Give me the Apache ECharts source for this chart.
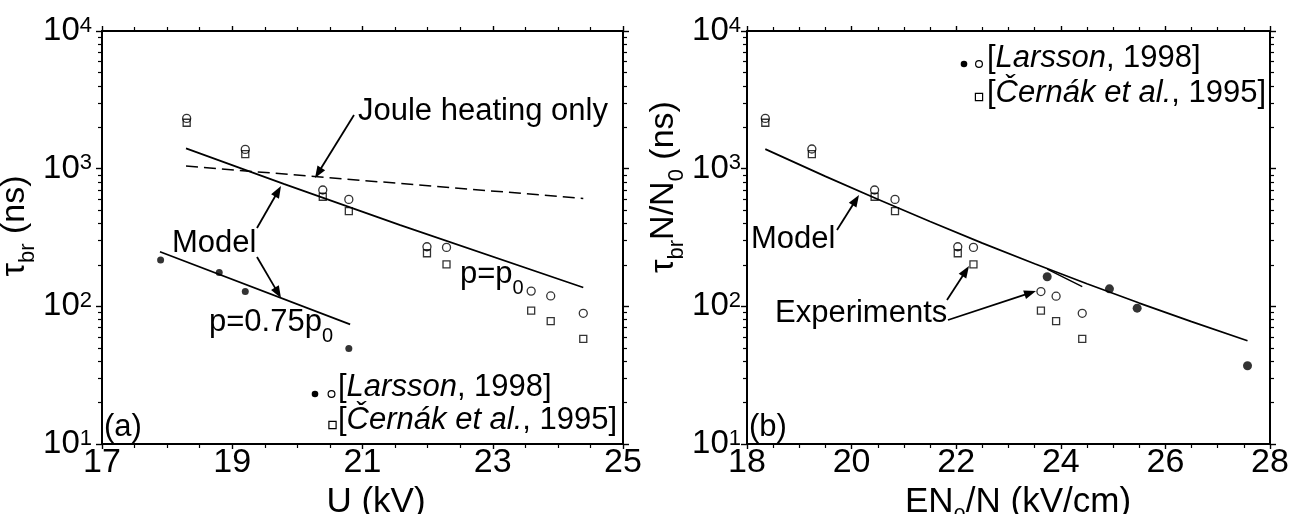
<!DOCTYPE html>
<html>
<head>
<meta charset="utf-8">
<script src="https://cdn.jsdelivr.net/npm/echarts@6/dist/echarts.min.js"></script>
<style>
  html, body { margin: 0; padding: 0; background: #fff; }
  #chart { width: 1301px; height: 514px; }
</style>
</head>
<body>
<div id="chart"></div>
<script>
// ---------- Panel (a): breakdown delay versus applied voltage U ----------
const xTicksA = [17, 19, 21, 23, 25];
const uOpen = [18.30, 19.20, 20.39, 20.79, 21.99, 22.29, 23.59, 23.89, 24.39];
const tauLarssonOpen = [2318, 1380, 700, 598, 271, 268, 129, 119, 89];
const tauCernak = [2155, 1276, 625, 492, 243, 202, 93, 78, 58];
const uSolid = [17.90, 18.80, 19.20, 20.79];
const tauLarssonSolid = [217, 176, 128, 49.5];
const uModelP0 = [18.29, 19.79, 21.58, 24.39];
const tauModelP0 = [1403, 775, 389, 137];
const uModel075 = [17.89, 20.81];
const tauModel075 = [249, 74];
const uJoule = [18.29, 24.39];
const tauJoule = [1045, 608];

// ---------- Panel (b): scaled delay versus reduced field ----------
const xTicksB = [18, 20, 22, 24, 26, 28];
const eOpen = [18.35, 19.24, 20.44, 20.83, 22.03, 22.33, 23.62, 23.91, 24.41];
const scaledLarssonOpen = [2318, 1390, 700, 598, 271, 268, 128, 118.5, 89];
const scaledCernak = [2155, 1276, 625, 492, 243, 202, 93, 78, 58];
const eSolid = [23.74, 24.93, 25.46, 27.57];
const scaledLarssonSolid = [164, 134, 97, 37];
const eModel = [18.35, 19.5, 20.5, 21.5, 22.5, 23.5, 24.5, 25.5, 26.5, 27.57];
const scaledModel = [1387, 879, 599, 413, 288, 204, 146, 105.6, 77.4, 56.2];
const eModelShort = [23.74, 24.41];
const scaledModelShort = [186.6, 138.8];

// shared log axis: decades 10^1 .. 10^4
const yDecadeExponents = [1, 2, 3, 4];

const FONT = 'Liberation Sans';
const zip = (xs, ys) => xs.map((x, i) => [x, ys[i]]);

// minor log ticks (2..9 within each decade), expressed in exponent space
const minorLogTicks = [];
for (let d = yDecadeExponents[0]; d < yDecadeExponents[yDecadeExponents.length - 1]; d++) {
  for (let k = 2; k <= 9; k++) minorLogTicks.push(d + Math.log10(k));
}

const subRich = (size, subSize, drop) => ({
  t: { fontSize: size, lineHeight: size, verticalAlign: 'top', fontFamily: FONT, color: '#000' },
  s: { fontSize: subSize, lineHeight: subSize, verticalAlign: 'top', padding: [drop, 0, 0, 0], fontFamily: FONT, color: '#000' }
});

function xAxes(grid, ticks, name, padLeft) {
  const base = {
    type: 'value', gridIndex: grid,
    min: ticks[0], max: ticks[ticks.length - 1], interval: ticks[1] - ticks[0],
    axisLine: { onZero: false, lineStyle: { color: '#000', width: 2 } },
    axisTick: { show: true, inside: false, length: 5, lineStyle: { color: '#000', width: 1.4 } },
    minorTick: { show: true, splitNumber: 4, length: 4, lineStyle: { color: '#000', width: 1.2 } },
    splitLine: { show: false }, minorSplitLine: { show: false }
  };
  return [
    Object.assign({}, base, {
      position: 'bottom',
      axisLabel: { fontSize: 34, fontFamily: FONT, color: '#000', margin: 2 },
      name: name, nameLocation: 'middle', nameGap: 34,
      nameTextStyle: { rich: subRich(35, 22, 21), padding: [0, 0, 0, padLeft] }
    }),
    Object.assign({}, base, { position: 'top', axisLabel: { show: false } })
  ];
}

function yAxes(grid, name, gap, padLeft, labelMargin) {
  const lo = Math.pow(10, yDecadeExponents[0]);
  const hi = Math.pow(10, yDecadeExponents[yDecadeExponents.length - 1]);
  const major = {
    type: 'log', logBase: 10, gridIndex: grid, min: lo, max: hi,
    axisLine: { onZero: false, lineStyle: { color: '#000', width: 2 } },
    axisTick: { show: true, inside: false, length: 6, lineStyle: { color: '#000', width: 1.4 } },
    splitLine: { show: false }, minorTick: { show: false }
  };
  const minor = {
    type: 'value', gridIndex: grid,
    min: yDecadeExponents[0], max: yDecadeExponents[yDecadeExponents.length - 1],
    axisLine: { show: false },
    axisTick: { show: true, inside: false, length: 4, customValues: minorLogTicks, lineStyle: { color: '#000', width: 1.2 } },
    axisLabel: { show: false }, splitLine: { show: false }
  };
  return [
    Object.assign({}, major, {
      position: 'left',
      axisLabel: {
        margin: labelMargin,
        formatter: v => '{b|10}{s|' + Math.round(Math.log10(v)) + '}',
        rich: {
          b: { fontSize: 33, lineHeight: 33, verticalAlign: 'top', fontFamily: FONT, color: '#000' },
          s: { fontSize: 22, lineHeight: 22, verticalAlign: 'top', fontFamily: FONT, color: '#000' }
        }
      },
      name: name, nameLocation: 'middle', nameRotate: 90, nameGap: gap,
      nameTextStyle: { rich: subRich(34, 22, 20), padding: [0, 0, 0, padLeft] }
    }),
    Object.assign({}, major, { position: 'right', axisLabel: { show: false } }),
    Object.assign({}, minor, { position: 'left' }),
    Object.assign({}, minor, { position: 'right' })
  ];
}

const solidLine = (name, xi, yi, data, extra) => Object.assign({
  name: name, type: 'line', xAxisIndex: xi, yAxisIndex: yi, data: data,
  symbol: 'none', silent: true,
  lineStyle: { color: '#000', width: 1.7 }
}, extra || {});

const marks = (name, xi, yi, data, symbol, size, filled) => ({
  name: name, type: 'scatter', xAxisIndex: xi, yAxisIndex: yi, data: data,
  symbol: symbol, symbolSize: size, silent: true,
  itemStyle: filled
    ? { color: '#000' }
    : { color: 'transparent', borderColor: '#000', borderWidth: 1.3 }
});

// ---------- annotation helpers ----------
function arrow(x1, y1, x2, y2) {
  const dx = x2 - x1, dy = y2 - y1, L = Math.hypot(dx, dy);
  const ux = dx / L, uy = dy / L, hl = 12, hw = 4.5;
  const bx = x2 - ux * hl, by = y2 - uy * hl;
  return [
    { type: 'line', shape: { x1: x1, y1: y1, x2: bx + ux * 2, y2: by + uy * 2 }, style: { stroke: '#000', lineWidth: 1.8 } },
    { type: 'polygon', shape: { points: [[x2, y2], [bx - uy * hw, by + ux * hw], [bx + uy * hw, by - ux * hw]] }, style: { fill: '#000' } }
  ];
}
function label(x, yMid, text) {
  return { type: 'text', x: x, y: yMid, style: { text: text, fontSize: 31, fontFamily: FONT, fill: '#000', align: 'left', verticalAlign: 'middle' } };
}
const annRich = {
  t: { fontSize: 31, lineHeight: 31, verticalAlign: 'top', fontFamily: FONT, fill: '#000' },
  s: { fontSize: 20, lineHeight: 20, verticalAlign: 'top', padding: [19, 0, 0, 0], fontFamily: FONT, fill: '#000' },
  i: { fontSize: 31, lineHeight: 31, verticalAlign: 'top', fontStyle: 'italic', fontFamily: FONT, fill: '#000' }
};
function richLabel(x, yTop, text) {
  return { type: 'text', x: x, y: yTop, style: { text: text, rich: annRich, fontSize: 31, fontFamily: FONT, fill: '#000', align: 'left', verticalAlign: 'top' } };
}
function legendBlock(x, yTop1, yTop2, dot, circ, sq) {
  return [
    { type: 'circle', shape: { cx: dot[0], cy: dot[1], r: 3.3 }, style: { fill: '#000' } },
    { type: 'circle', shape: { cx: circ[0], cy: circ[1], r: 3.4 }, style: { fill: 'none', stroke: '#000', lineWidth: 1.2 } },
    { type: 'rect', shape: { x: sq[0] - 3.6, y: sq[1] - 3.6, width: 7.2, height: 7.2 }, style: { fill: 'none', stroke: '#000', lineWidth: 1.2 } },
    richLabel(x, yTop1, '{t|[}{i|Larsson}{t|, 1998]}'),
    richLabel(x, yTop2, '{t|[}{i|Černák et al.}{t|, 1995]}')
  ];
}

const graphics = [].concat(
  // panel (a)
  [label(358, 111, 'Joule heating only')],
  arrow(354, 115, 315, 178),
  [label(172, 243, 'Model')],
  arrow(257, 228, 281, 186),
  arrow(257, 257, 281, 298),
  [richLabel(209, 307, '{t|p=0.75p}{s|0}')],
  [richLabel(460, 259, '{t|p=p}{s|0}')],
  [label(104, 427, '(a)')],
  legendBlock(338, 372, 405, [315, 394], [331.5, 394], [332.5, 425]),
  // panel (b)
  [label(751, 239, 'Model')],
  arrow(837, 230, 859, 195),
  [label(775, 313, 'Experiments')],
  arrow(947, 300, 969, 266),
  arrow(948, 320, 1036, 291),
  [label(749, 427, '(b)')],
  legendBlock(987, 43, 78, [964, 64], [979, 64], [979, 97])
);

const option = {
  animation: false,
  backgroundColor: '#fff',
  textStyle: { fontFamily: FONT, color: '#000' },
  grid: [
    { left: 102, top: 31, width: 521, height: 413, containLabel: false, outerBoundsMode: 'none' },
    { left: 747, top: 31, width: 523, height: 413, containLabel: false, outerBoundsMode: 'none' }
  ],
  xAxis: [].concat(
    xAxes(0, xTicksA, '{t|U (kV)}', 27),
    xAxes(1, xTicksB, '{t|EN}{s|0}{t|/N (kV/cm)}', 19)
  ),
  yAxis: [].concat(
    yAxes(0, '{t|τ}{s|br}{t| (ns)}', 43, 23, 10),
    yAxes(1, '{t|τ}{s|br}{t|N/N}{s|0}{t| (ns)}', 53, 101, 6)
  ),
  series: [
    solidLine('Joule heating only', 0, 0, zip(uJoule, tauJoule), { lineStyle: { color: '#000', width: 1.5, type: [12, 6] } }),
    solidLine('Model, p=p0', 0, 0, zip(uModelP0, tauModelP0)),
    solidLine('Model, p=0.75p0', 0, 0, zip(uModel075, tauModel075)),
    marks('Larsson 1998 (open)', 0, 0, zip(uOpen, tauLarssonOpen), 'circle', 8, false),
    marks('Černák et al. 1995', 0, 0, zip(uOpen, tauCernak), 'rect', 7, false),
    marks('Larsson 1998 (solid)', 0, 0, zip(uSolid, tauLarssonSolid), 'circle', 7, true),

    solidLine('Model', 2, 4, zip(eModel, scaledModel)),
    solidLine('Model (0.75p0)', 2, 4, zip(eModelShort, scaledModelShort), { lineStyle: { color: '#000', width: 1.4 } }),
    marks('Larsson 1998 (open) b', 2, 4, zip(eOpen, scaledLarssonOpen), 'circle', 8, false),
    marks('Černák et al. 1995 b', 2, 4, zip(eOpen, scaledCernak), 'rect', 7, false),
    marks('Larsson 1998 (solid) b', 2, 4, zip(eSolid, scaledLarssonSolid), 'circle', 9, true)
  ],
  graphic: graphics
};

const chart = echarts.init(document.getElementById('chart'), null, { renderer: 'canvas' });
chart.setOption(option);
</script>
</body>
</html>
